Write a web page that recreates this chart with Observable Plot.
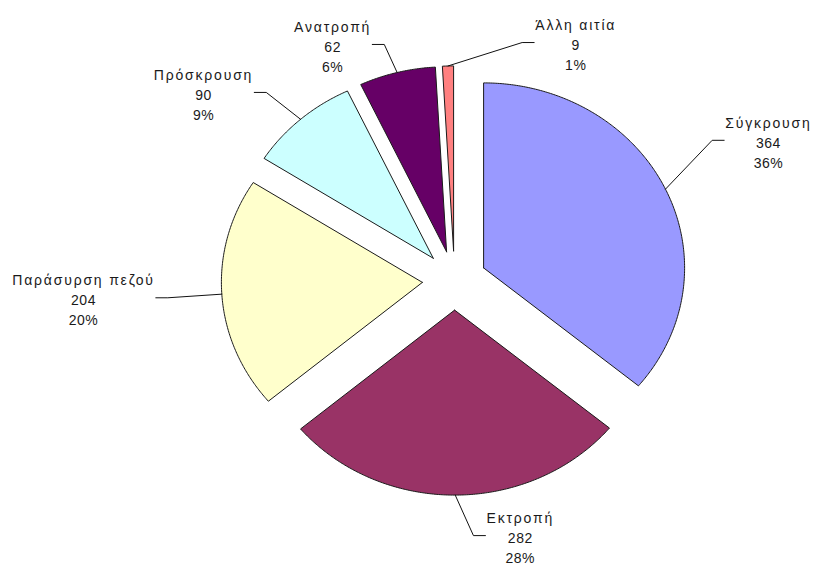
<!DOCTYPE html>
<html><head><meta charset="utf-8">
<script src="https://cdn.jsdelivr.net/npm/d3@7"></script>
<script src="https://cdn.jsdelivr.net/npm/@observablehq/plot@0.6"></script>
<style>body{margin:0;background:#fff} svg{display:block}</style>
</head><body><div id="chart"></div>
<script>
// ---- data ----
const categories = ["Σύγκρουση", "Εκτροπή", "Παράσυρση πεζού", "Πρόσκρουση", "Ανατροπή", "Άλλη αιτία"];
const counts = [364, 282, 204, 90, 62, 9];
const percentLabels = ["36%", "28%", "20%", "9%", "6%", "1%"];
const colors = ["#9999FF", "#993366", "#FFFFCC", "#CCFFFF", "#660066", "#FF8080"];
// label layout: angle (deg, clockwise from 12 o'clock) and distance in pie radii
const labelAngle = [64.6, 166.8, 266.6, 308.7, 334.3, 25.4];
const labelRadius = [1.729, 1.433, 1.849, 1.6, 1.398, 1.406];

// ---- layout ----
const W = 826, H = 566;
const CX = 454, CY = 280, RX = 201, RY = 185;
const EXPLODE = 0.16;
const xDomain = [-CX / RX, (W - CX) / RX];
const yDomain = [(CY - H) / RY, CY / RY];
const pxX = 1 / RX, pxY = 1 / RY;
const FONT = "Liberation Sans, Arial, sans-serif";
const FS = 14, TITLE_LS = 1.8, NUM_LS = 0.5, LINE = 20;

const arcs = d3.pie().sort(null).startAngle(0).endAngle(2 * Math.PI)(counts);

const slices = arcs.map((a, i) => {
  const mid = (a.startAngle + a.endAngle) / 2;
  const ox = EXPLODE * Math.sin(mid), oy = EXPLODE * Math.cos(mid);
  const n = Math.max(2, Math.ceil((a.endAngle - a.startAngle) / (Math.PI / 360)));
  const pts = [{x: ox, y: oy}];
  for (let k = 0; k <= n; k++) {
    const t = a.startAngle + (a.endAngle - a.startAngle) * k / n;
    pts.push({x: ox + Math.sin(t), y: oy + Math.cos(t)});
  }
  pts.push({x: ox, y: oy});
  return pts;
});

const ctx = document.createElement("canvas").getContext("2d");
ctx.font = `${FS}px ${FONT}`;
const titleWidth = s => ctx.measureText(s).width + TITLE_LS * ([...s].length - 1);

const titles = [], nums = [], leaders = [];
arcs.forEach((a, i) => {
  const mid = (a.startAngle + a.endAngle) / 2;
  const ang = labelAngle[i] * Math.PI / 180;
  const lx = labelRadius[i] * Math.sin(ang), ly = labelRadius[i] * Math.cos(ang);
  titles.push({x: lx, y: ly + LINE * pxY, text: categories[i]});
  nums.push({x: lx, y: ly, text: String(counts[i])});
  nums.push({x: lx, y: ly - LINE * pxY, text: percentLabels[i]});
  const sx = (1 + EXPLODE) * Math.sin(mid), sy = (1 + EXPLODE) * Math.cos(mid);
  const side = Math.sign(lx - sx) || 1;
  const ex = lx - side * (titleWidth(categories[i]) / 2 + 2) * pxX;
  const ey = ly + 3 * pxY;
  const bx = ex - side * 12 * pxX;
  leaders.push([{x: sx, y: sy}, {x: bx, y: ey}, {x: ex, y: ey}]);
});

const marks = [];
slices.forEach((pts, i) => {
  marks.push(Plot.line(pts, {x: "x", y: "y", fill: colors[i], stroke: "#1a1a1a", strokeWidth: 1, strokeLinejoin: "miter"}));
});
leaders.forEach(pts => {
  marks.push(Plot.line(pts, {x: "x", y: "y", stroke: "#111", strokeWidth: 1}));
});
marks.push(Plot.text(titles, {x: "x", y: "y", text: "text", fontSize: FS, fill: "#1a1a1a"}));
marks.push(Plot.text(nums, {x: "x", y: "y", text: "text", fontSize: FS, fill: "#1a1a1a"}));

const svg = Plot.plot({
  width: W, height: H, margin: 0,
  x: {domain: xDomain, axis: null},
  y: {domain: yDomain, axis: null},
  style: {fontFamily: FONT, background: "#fff"},
  marks
});
const tg = svg.querySelectorAll('g[aria-label="text"]');
if (tg[0]) tg[0].setAttribute("letter-spacing", TITLE_LS);
if (tg[1]) tg[1].setAttribute("letter-spacing", NUM_LS);
document.getElementById("chart").appendChild(svg);
</script>
</body></html>
